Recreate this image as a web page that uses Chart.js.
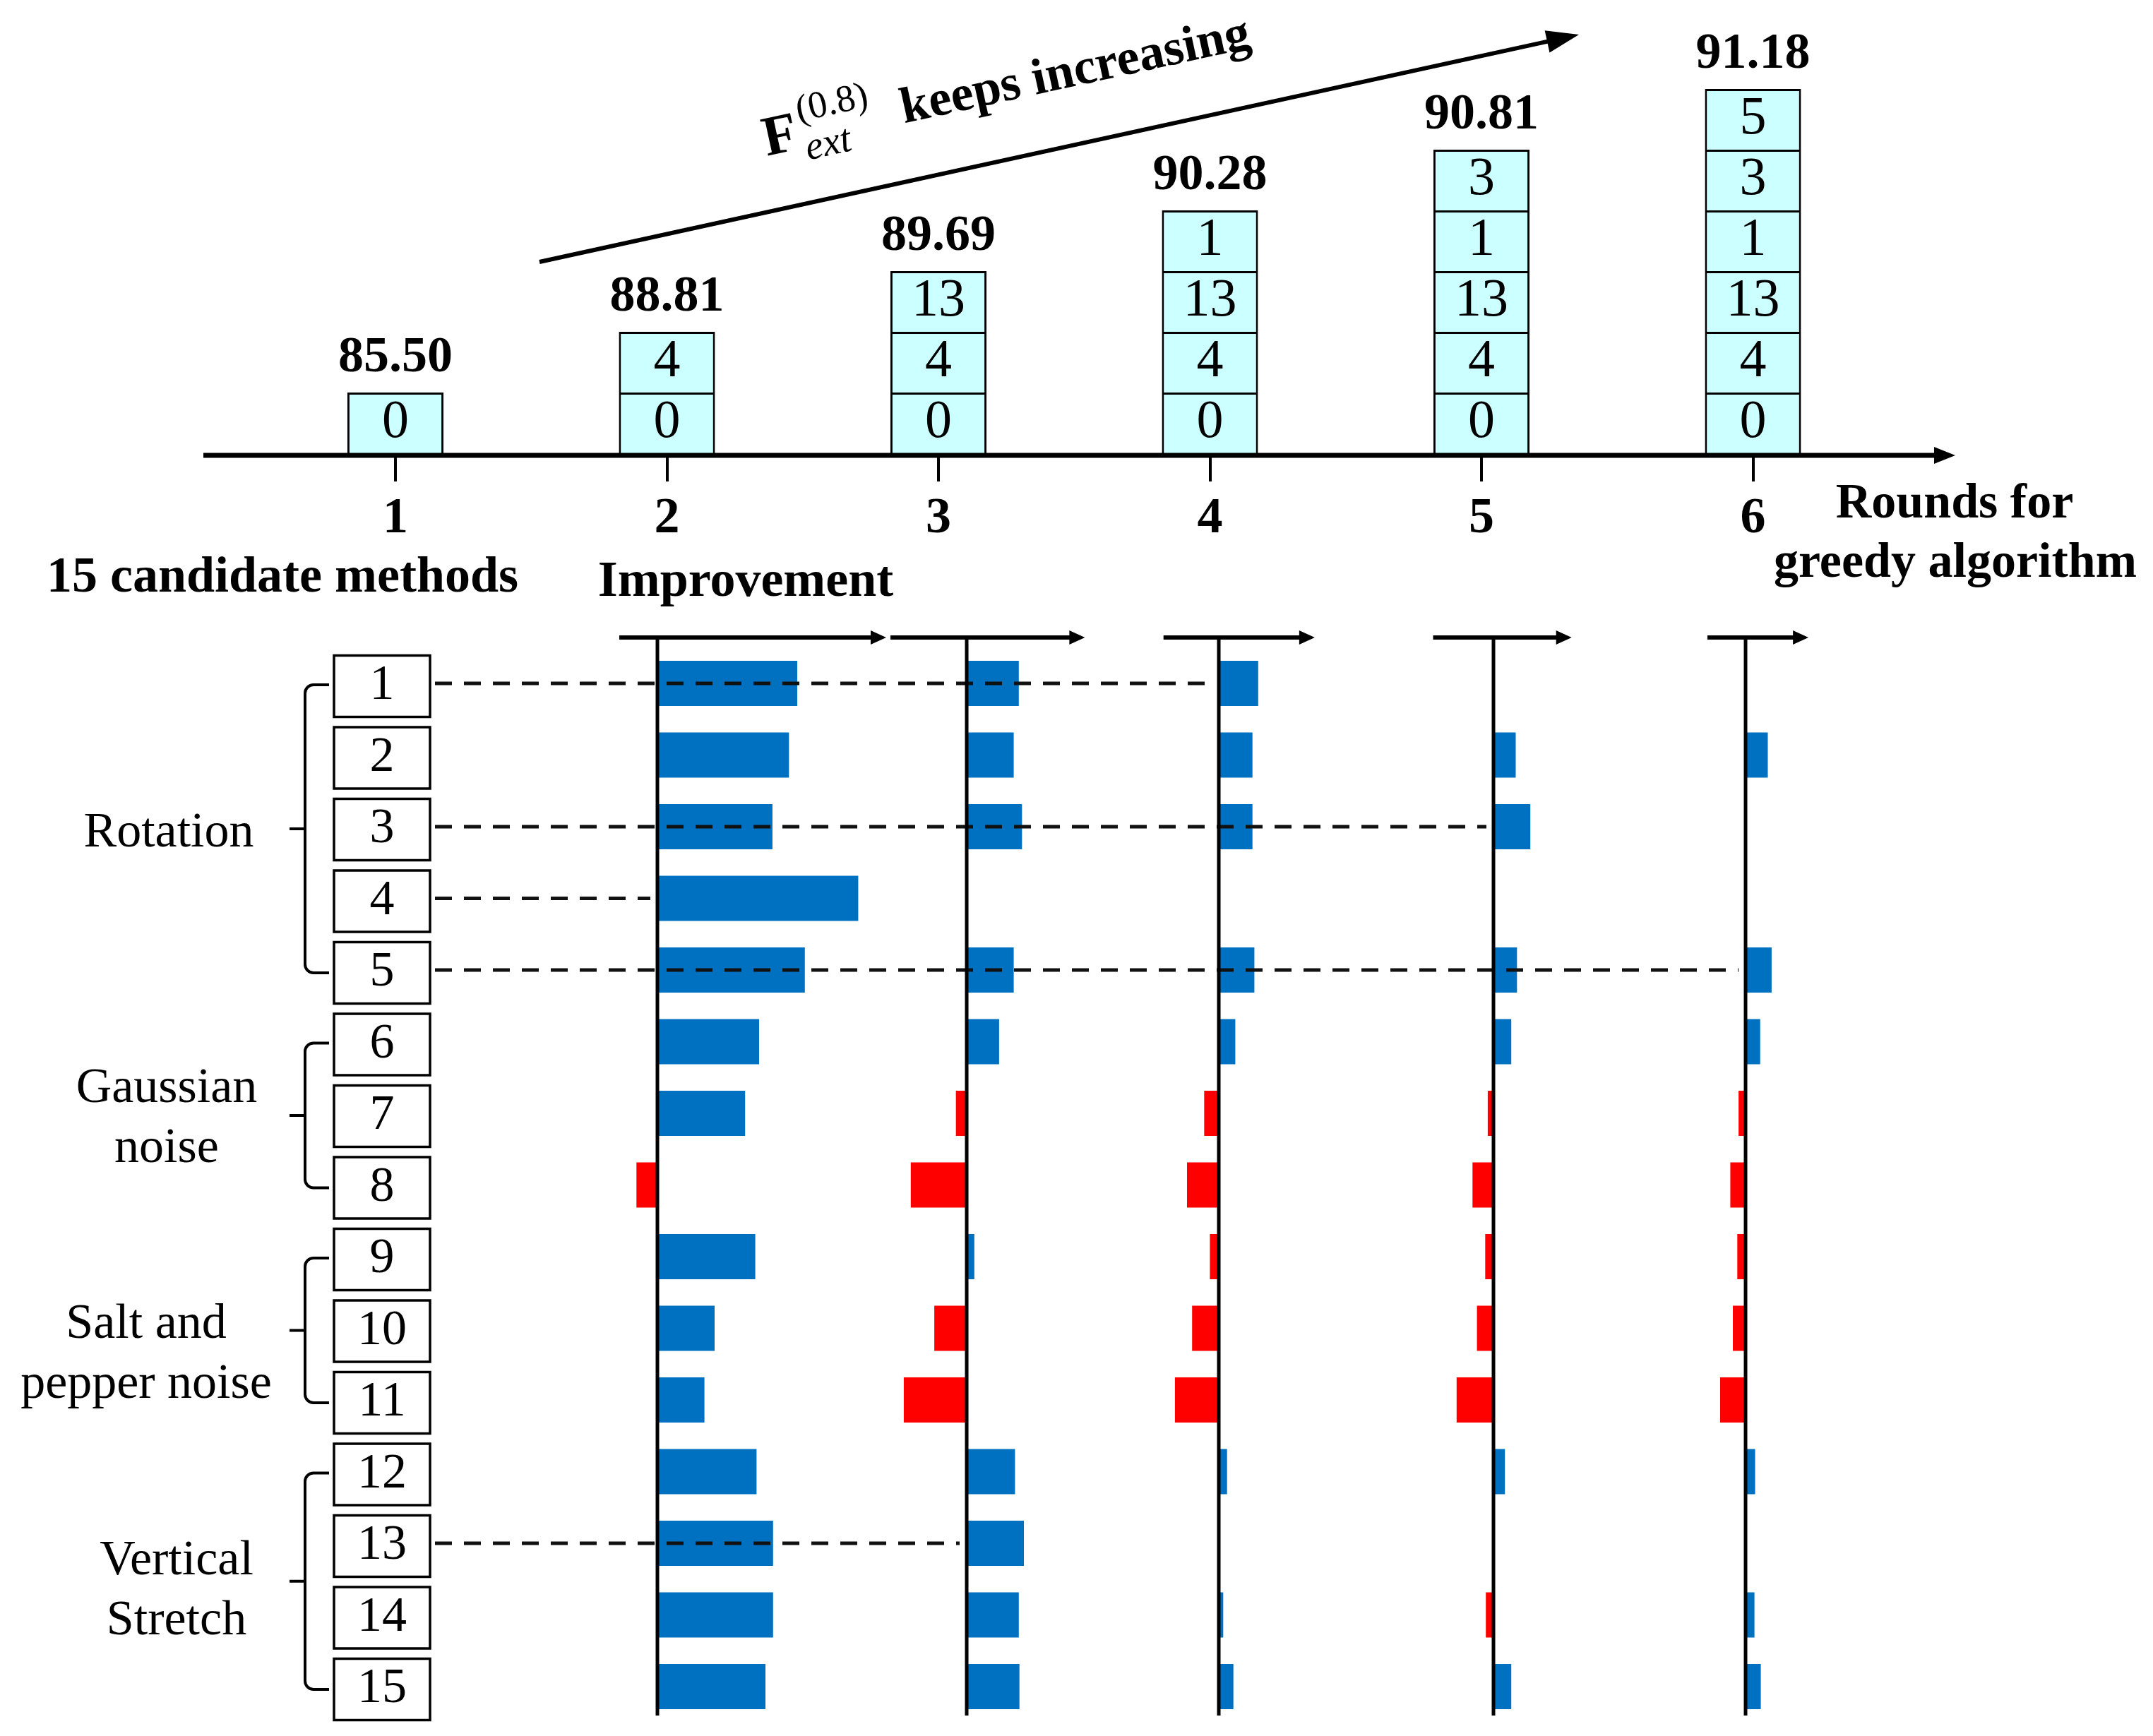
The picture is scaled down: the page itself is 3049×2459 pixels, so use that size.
<!DOCTYPE html>
<html>
<head>
<meta charset="utf-8">
<title>Greedy selection of augmentation methods</title>
<script src="https://cdn.jsdelivr.net/npm/chart.js@4.4.1/dist/chart.umd.min.js"></script>
<style>
  html, body { margin: 0; padding: 0; background: #fff; }
  #wrap { position: relative; width: 3049px; height: 2459px; }
  #wrap canvas { position: absolute; left: 0; top: 0; }
</style>
</head>
<body>
<div id="wrap">
  <canvas id="chart-improve" width="3049" height="2459"></canvas>
  <canvas id="chart-rounds" width="3049" height="2459"></canvas>
</div>
<script>
// rounds of the greedy search and the F score reached after each round
const rounds = [`1`, `2`, `3`, `4`, `5`, `6`];
const scores = [85.50, 88.81, 89.69, 90.28, 90.81, 91.18];
// method added in each round (0 = original data)
const added = [0, 4, 13, 1, 3, 5];

// the 15 candidate methods
const methods = [`1`, `2`, `3`, `4`, `5`, `6`, `7`, `8`, `9`, `10`, `11`, `12`, `13`, `14`, `15`];
const groupNames = [[`Rotation`], [`Gaussian`, `noise`], [`Salt and`, `pepper noise`], [`Vertical`, `Stretch`]];
const groupFrom = [1, 6, 9, 12];
const groupTo = [5, 8, 11, 15];

// improvement of each candidate in rounds 1..5 (points, null = already chosen)
const gain1 = [2.20, 2.07, 1.81, 3.16, 2.32, 1.60, 1.38, -0.33, 1.54, 0.90, 0.74, 1.56, 1.82, 1.82, 1.70];
const gain2 = [0.82, 0.74, 0.87, null, 0.74, 0.51, -0.17, -0.88, 0.12, -0.51, -0.99, 0.76, 0.90, 0.82, 0.83];
const gain3 = [0.62, 0.53, 0.53, null, 0.56, 0.26, -0.23, -0.50, -0.14, -0.42, -0.69, 0.13, null, 0.07, 0.23];
const gain4 = [null, 0.35, 0.58, null, 0.37, 0.28, -0.09, -0.33, -0.13, -0.26, -0.58, 0.18, null, -0.12, 0.28];
const gain5 = [null, 0.35, null, null, 0.41, 0.23, -0.11, -0.24, -0.13, -0.20, -0.40, 0.15, null, 0.14, 0.24];
const gains = [gain1, gain2, gain3, gain4, gain5];

// arrow extent of each small improvement axis (points)
const axisFrom = [-0.6, -1.2, -0.87, -0.95, -0.6];
const axisTo = [3.6, 1.86, 1.51, 1.23, 0.99];

const SERIF = `'Liberation Serif', 'Times New Roman', serif`;
const BLUE = `#0070C0`;
const RED = `#FF0000`;
const CYAN = `#CCFFFF`;

// layout of the page
const W = 3049, H = 2459;
const topAxisY = 642;
const boxPx = 86;
const panelZero = [931, 1369, 1726, 2115, 2472];
const pxPerPoint = 90;
const areaLeft = 700, areaRight = 2800;
const rowTop = 917.25, rowBottom = 2439.75;
const panelArrowY = 903, panelLineBottom = 2430;
const groupLabelX = [239, 236, 207, 250];
const groupLabelY = [1199, 1561, 1895, 2230];

function drawArrow(ctx, x1, y1, x2, y2, lw, headLen, headHalf) {
  const a = Math.atan2(y2 - y1, x2 - x1);
  ctx.save();
  ctx.strokeStyle = `#000`;
  ctx.fillStyle = `#000`;
  ctx.lineWidth = lw;
  ctx.beginPath();
  ctx.moveTo(x1, y1);
  ctx.lineTo(x2 - headLen * 0.8 * Math.cos(a), y2 - headLen * 0.8 * Math.sin(a));
  ctx.stroke();
  ctx.translate(x2, y2);
  ctx.rotate(a);
  ctx.beginPath();
  ctx.moveTo(0, 0);
  ctx.lineTo(-headLen, -headHalf);
  ctx.lineTo(-headLen, headHalf);
  ctx.closePath();
  ctx.fill();
  ctx.restore();
}

// Top chart: stacked boxes of chosen methods per round

const roundsDecor = {
  id: `roundsDecor`,
  afterDatasetsDraw(chart) {
    const ctx = chart.ctx;
    ctx.save();
    ctx.fillStyle = `#000`;
    ctx.textAlign = `center`;

    // method numbers inside the boxes
    ctx.font = `76px ${SERIF}`;
    ctx.textBaseline = `middle`;
    chart.data.datasets.forEach((ds, j) => {
      chart.getDatasetMeta(j).data.forEach((el, i) => {
        if (ds.data[i] === null) return;
        ctx.fillText(String(ds.method), el.x, (el.y + el.base) / 2);
      });
    });

    // score above each stack
    ctx.font = `bold 72px ${SERIF}`;
    ctx.textBaseline = `alphabetic`;
    rounds.forEach((r, i) => {
      const el = chart.getDatasetMeta(i).data[i];
      ctx.fillText(scores[i].toFixed(2), el.x, el.y - 30);
    });

    // axis with arrow
    drawArrow(ctx, 288, topAxisY + 3, 2769, topAxisY + 3, 7, 30, 12);

    // texts under the axis
    ctx.font = `bold 72px ${SERIF}`;
    ctx.fillText(`15 candidate methods`, 400, 838);
    ctx.fillText(`Improvement`, 1056, 844);
    ctx.font = `bold 70px ${SERIF}`;
    ctx.fillText(`Rounds for`, 2768, 733);
    ctx.fillText(`greedy algorithm`, 2769, 817);

    // trend arrow and its label
    drawArrow(ctx, 764, 371, 2236, 49, 6, 46, 16);
    ctx.save();
    ctx.translate(1086, 221);
    ctx.rotate(-12.3 * Math.PI / 180);
    ctx.textAlign = `left`;
    ctx.font = `bold 80px ${SERIF}`;
    ctx.fillText(`F`, 0, 0);
    ctx.font = `54px ${SERIF}`;
    ctx.fillText(`(0.8)`, 54, -38);
    ctx.font = `italic 56px ${SERIF}`;
    ctx.fillText(`ext`, 56, 18);
    ctx.font = `bold 72px ${SERIF}`;
    ctx.fillText(`keeps increasing`, 200, -4);
    ctx.restore();

    ctx.restore();
  }
};

const stackSets = added.map((m, j) => ({
  label: `step ${j}`,
  method: m,
  data: rounds.map((r, i) => (j <= i ? 1 : null)),
  backgroundColor: CYAN,
  borderColor: `#000`,
  borderWidth: 3,
  borderSkipped: `start`,
  barPercentage: 0.354,
  categoryPercentage: 1,
}));

const chartRounds = new Chart(document.getElementById(`chart-rounds`), {
  type: `bar`,
  data: { labels: rounds, datasets: stackSets },
  options: {
    responsive: false,
    animation: false,
    events: [],
    layout: {
      padding: { left: 367.75, right: W - 2674.75, top: topAxisY - 7 * boxPx, bottom: H - topAxisY - 150 }
    },
    plugins: { legend: { display: false }, tooltip: { enabled: false } },
    scales: {
      x: {
        stacked: true,
        border: { display: false },
        grid: { offset: false, drawOnChartArea: false, drawTicks: true, tickLength: 40, color: `#000`, lineWidth: 4 },
        ticks: { color: `#000`, padding: 10, font: { family: SERIF, size: 72, weight: `bold` } },
        afterFit: (scale) => { scale.height = 150; },
      },
      y: { stacked: true, display: false, min: 0, max: 7 },
    },
  },
  plugins: [roundsDecor],
});

// Bottom chart: improvement of every candidate in each round

const improveDecor = {
  id: `improveDecor`,
  afterDatasetsDraw(chart) {
    const ctx = chart.ctx;
    const yScale = chart.scales.y;
    const rowY = (m) => yScale.getPixelForValue(m - 1);
    ctx.save();

    // candidate boxes
    methods.forEach((label, i) => {
      const y = yScale.getPixelForValue(i) + 4;
      ctx.fillStyle = `#fff`;
      ctx.fillRect(473, y - 43.5, 136, 87);
      ctx.strokeStyle = `#000`;
      ctx.lineWidth = 3.5;
      ctx.strokeRect(473, y - 43.5, 136, 87);
      ctx.fillStyle = `#000`;
      ctx.font = `70px ${SERIF}`;
      ctx.textAlign = `center`;
      ctx.textBaseline = `middle`;
      ctx.fillText(label, 541, y);
    });

    // group brackets and names
    groupNames.forEach((lines, g) => {
      const y1 = rowY(groupFrom[g]) + 2;
      const y2 = rowY(groupTo[g]) + 4;
      const bx = 432, r = 12;
      ctx.strokeStyle = `#000`;
      ctx.lineWidth = 4;
      ctx.beginPath();
      ctx.moveTo(466, y1);
      ctx.arcTo(bx, y1, bx, y1 + r, r);
      ctx.lineTo(bx, y2 - r);
      ctx.arcTo(bx, y2, 466, y2, r);
      ctx.lineTo(466, y2);
      ctx.moveTo(410, (y1 + y2) / 2);
      ctx.lineTo(bx, (y1 + y2) / 2);
      ctx.stroke();
      ctx.fillStyle = `#000`;
      ctx.font = `70px ${SERIF}`;
      ctx.textAlign = `center`;
      ctx.textBaseline = `alphabetic`;
      lines.forEach((t, k) => ctx.fillText(t, groupLabelX[g], groupLabelY[g] + k * 85));
    });

    // dashed line from each chosen method to the round where it is chosen
    ctx.setLineDash([24, 17]);
    ctx.strokeStyle = `#111`;
    ctx.lineWidth = 5;
    added.slice(1).forEach((m, k) => {
      const y = rowY(m);
      const xEnd = chart.scales[`x${k}`].getPixelForValue(0) - 10;
      ctx.beginPath();
      ctx.moveTo(616, y);
      ctx.lineTo(xEnd, y);
      ctx.stroke();
    });
    ctx.setLineDash([]);

    // zero line and arrow of each round
    gains.forEach((g, k) => {
      const sc = chart.scales[`x${k}`];
      const x0 = sc.getPixelForValue(0);
      ctx.strokeStyle = `#000`;
      ctx.lineWidth = 5;
      ctx.beginPath();
      ctx.moveTo(x0, panelArrowY);
      ctx.lineTo(x0, panelLineBottom);
      ctx.stroke();
      drawArrow(ctx, sc.getPixelForValue(axisFrom[k]), panelArrowY, sc.getPixelForValue(axisTo[k]), panelArrowY, 6, 22, 10);
    });

    ctx.restore();
  }
};

const improveScales = {
  y: { type: `category`, display: false, offset: true },
};
gains.forEach((g, k) => {
  improveScales[`x${k}`] = {
    type: `linear`,
    display: false,
    min: (areaLeft - panelZero[k]) / pxPerPoint,
    max: (areaRight - panelZero[k]) / pxPerPoint,
  };
});

const chartImprove = new Chart(document.getElementById(`chart-improve`), {
  type: `bar`,
  data: {
    labels: methods,
    datasets: gains.map((g, k) => ({
      label: `Round ${k + 1}`,
      data: g,
      xAxisID: `x${k}`,
      yAxisID: `y`,
      grouped: false,
      barPercentage: 0.63,
      categoryPercentage: 1,
      borderWidth: 0,
      backgroundColor: (c) => (c.raw < 0 ? RED : BLUE),
    })),
  },
  options: {
    indexAxis: `y`,
    responsive: false,
    animation: false,
    events: [],
    layout: { padding: { left: areaLeft, right: W - areaRight, top: rowTop, bottom: H - rowBottom } },
    plugins: { legend: { display: false }, tooltip: { enabled: false } },
    scales: improveScales,
  },
  plugins: [improveDecor],
});
</script>
</body>
</html>
